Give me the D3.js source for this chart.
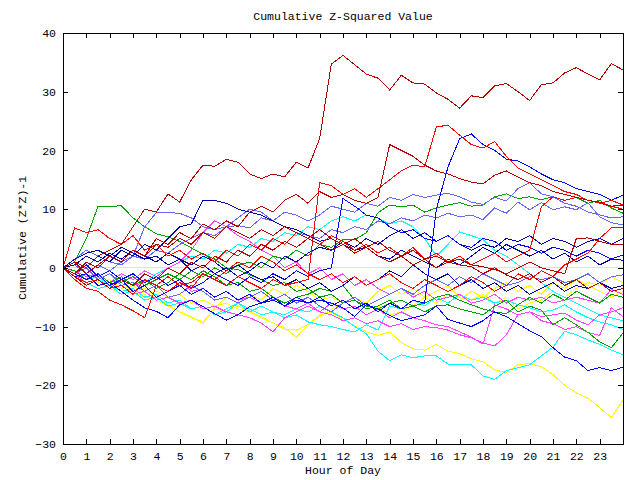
<!DOCTYPE html>
<html><head><meta charset="utf-8">
<script src="https://cdn.jsdelivr.net/npm/d3@7"></script>
<style>body{margin:0;background:#fff}svg{display:block}</style>
</head><body>
<script>
// Half-hour sampling grid (hour of day)
const hours = d3.range(0, 24.001, 0.5);
const xTickValues = d3.range(0, 24);
const yTickValues = [-30, -20, -10, 0, 10, 20, 30, 40];
const titleText = "Cumulative Z-Squared Value";
const xLabelText = "Hour of Day";
const yLabelText = "Cumulative (Z*Z)-1";

const darkRed1 = [0,1,0,2,3, 4,7,10,9.5,12.6, 11.2,15,17.5,17.3,18.5, 18,16,15.2,16,15.5, 18,17,22,34.7,36.2, 34.6,33,32.3,30.3,32.8, 31.5,31.3,29.8,28.7,27.2, 29.3,29,31,31.4,30, 28.5,31.2,31.5,33.2,34.1, 33,32,34.8,33.7];
const darkRed2 = [0,1,-1,0.5,2, 1,3,2,5,4, 6,5,7.5,6.5,8, 7,9.5,10.5,9.5,11.5, 12.5,11,13,12,12.5, 11.5,11,12,21,20, 19,17.5,16.5,16,15.2, 14.6,14.3,15.8,16.5,15.5, 14.5,14,13,12.5,12, 11.5,11.2,10.5,10.7];
const darkRed3 = [0,-1,1,0,2, 1,3,2,4,3.5, 5,4,6,5,7, 6,5,6.5,5.5,7, 6,5,6.5,5,4, 5,3.5,4.5,3,2, 3,1.5,2,1,1.5, 0.5,0.2,-0.3,-1,0, 1,0,-0.5,-1,5, 5.1,4.5,4,3.9];
const darkRed4 = [0,-1.5,-3,-2,-3.5, -2,-3,-1,-2,0, -1,1,0,2,1, 3,2,4,3,4.5, 3.5,5,4,3,4, 2.5,3.5,2,1,2, 0.5,1.5,0,1,0.5, 0.2,-1,0,-1.2,-2, -1,-2.5,-1.5,-3,-2, -3.5,-2.5,-4,-3.5];
const red1 = [0,-1.5,-2.5,-2,-3.5, -3,-4.5,-2,-3,-1.5, -3,-2.5,-1,-2,-3, -1.5,-2.5,-3.5,-2,-3, -2.5,-2,14.5,14,12.5, 13.5,12,13.5,15,16.5, 17.5,17.2,24,24.3,22.6, 21,20.4,21.5,19,17, 16,15,14,13,12.5, 11.5,11,10.5,10];
const red2 = [0,6.8,6,6.5,5, 4,5.5,3,4,2, 3,1.5,2.5,1,3, 2,4,3,5,4, 6,5,4,5.5,4.5, 3,4,2.5,3.5,2, 3.5,1.5,2.5,1,2, 0.5,1.5,2.5,1,2, 3,10.4,12.1,11.5,12, 11.5,11,11.5,10.7];
const red3 = [0,-2,-3.5,-4,-5.5, -6.3,-7.3,-8.5,-3,-4, -2.5,-3.5,-1,-2,-0.5, 1,0,2,1,-0.5, 0.5,-1,-2,-1,-2.5, -1.5,-3,-2,-1,-2.5, -3.5,-2,-3,-4,-3, -1.5,-2.5,-4,-3,-1, -2,-0.5,-1.5,0.5,1.5, 2.5,5,6.8,6.8];
const blue1 = [0,-1,-2,-1,-3, -2,-4,-3,-5,-4, -3,-4.5,-3.5,-5,-4, -5.5,-4.5,-6,-5,-6.5, -5.5,-6,-5,-6.5,-5.5, -7,-6,-7.5,-6,-7, -5.5,-6,10,17.2,22, 22.8,21,20,18.5,18.2, 17.2,16,15,14.5,13.5, 13,12.5,11.5,12.4];
const blue2 = [0,-1,0.5,-1.5,-0.5, -2,-1,-2.5,-1.5,-3, -2,-3.5,-2.5,-1,-2, -3,-1.5,-2.5,-1,-2, -0.5,-1.5,-0.5,0,11.8, 10.5,9,8.5,7,6, 6.5,5,4.5,5.5,4, 3.5,5,4.5,3,4, 3.5,2.5,3.5,3,2, 3,2.5,1.5,2.2];
const blue3 = [0,-1.5,-1,-3,-2.5, -4,-5.5,-6.8,-7.4,-8.5, -6.3,-5.5,-6.6,-7.8,-8.9, -8,-6.6,-6,-5.5,-6.5, -5,-6,-5.5,-6,-6.8, -8.3,-6.3,-7,-8.1,-9, -8.5,-8,-6.5,-8.8,-9.4, -10,-9,-7.5,-8.3,-9.5, -10.7,-11.7,-13.6,-15.2,-15.8, -17.5,-17,-17.5,-16.9];
const darkBlue1 = [0,1,0,2,1, 3,2,4,3,5, 7,7.5,11.5,11.5,11, 10,9.5,9,8,7, 6.5,5.5,4.5,5,4, 3,3.5,2,1.5,3, 2,1,0,1.5,0.5, 2,3.5,2.5,4,3, 2,3,1.5,2.5,1, 2,0.5,1.5,1.3];
const darkBlue2 = [0,0.5,2,1,2.5, 1.5,3,2,1,2.5, 1.5,0.5,2,1,-0.5, 0.5,-1,-2,-1.5,-3, -2,-3.5,-2.5,-4,-3, -1.5,-3,-2,-0.5,-1.5, 0.5,-1,-2,-1,-3, -2,-3.5,-2.5,-4,-3, -4.5,-3.5,-2.5,-4,-3, -3.5,-2.5,-3.5,-3];
const darkBlue3 = [0,1.5,2.5,3,2, 3.5,2.5,1.5,2,0.5, 1.5,-0.5,0.5,-1,0, -1.5,-0.5,1,0,2, 1,2.5,3.5,3,4.5, 3.5,5,4,5.5,6.5, 5,6,4.5,5.5,4, 3,4,3.5,5,4.5, 5.5,4,5,4.5,3.5, 4.5,5,4,5];
const green1 = [0,1,5,10.5,10.4, 10.6,8.5,7,5.8,5.3, 4.5,3.4,2.3,1.5,0, -0.3,-1.2,-2,-3,-2.5, -4,-3.5,-5,-4.5,-6, -5.5,-7,-6.5,-5.5,-7, -6.5,-7.5,-6.5,-6.3,-7, -7.5,-8,-6.5,-5.5,-7.5, -6.5,-7.2,-9.7,-8.5,-9.7, -11,-12.6,-13.6,-11.1];
const green2 = [0,-1,0,-2,-1, -2.5,-1.5,-3,-2,-1, -2,-0.5,-1.5,0,-1, 0.5,1,0,2,1.5, 3,2,4,3.5,4.8, 4.8,6,9.4,10.7,10.4, 10.7,9.5,10.2,10.7,11.1, 10.5,10.7,12.1,12.6,11.8, 12.1,11.6,12.1,11.5,12, 11,11.5,10.2,9.3];
const green3 = [0,-0.5,-2,-1,-2.5, -1.5,-3,-2,-3.5,-2.5, -1,-2,-0.5,-1.5,-3, -2.5,-4,-3.5,-5,-6, -5,-4.5,-3.5,-4,-3, -5.5,-6.5,-7,-6,-5.5, -6.5,-6,-5,-4.5,-5.5, -6.3,-7,-7.5,-7.8,-6.3, -5,-6,-4.5,-5.5,-4, -5,-6,-4.5,-5];
const magenta1 = [0,-1,-2.5,-2,-3.5, -3,-4.5,-4,-5.5,-5, -6,-5.5,-7,-6.5,-7.5, -8,-8.5,-9.4,-10.9,-8.5, -7.5,-6.5,-7.5,-6,-7, -6.5,-8,-7,-8.5,-7.5, -8.5,-9,-9.7,-10,-10.9, -11.8,-13,-6.3,-7,-8, -7.5,-9,-9.5,-10.5,-10, -11,-11.5,-6.8,-8.3];
const magenta2 = [0,-0.5,-1.5,-1,-2.5, -2,-3,-2.5,-1.5,-3, -2,-4,-3.5,-5,-4, -5.5,-5,-6,-5,-6.5, -7,-6,-7.5,-8,-9, -8.5,-9.5,-9,-10,-9.5, -10.5,-10,-10.2,-10.6,-11.4, -11.9,-12.8,-13.3,-11.4,-8, -7.5,-8.3,-8,-7.7,-8.9, -9.7,-8,-7.5,-6.8];
const magenta3 = [0,-2,-1,-3,-2.5, -1,-2,-0.5,-1.5,0, 1,3,6,8,7, 5.5,4.5,3,2,0, 1,-1,0,-2,-1, -3,-2,-3.5,-4.5,-3.5, -5,-4,-5.5,-5,-4.5, -6,-5.5,-4.5,-6,-5, -5.5,-5,-6,-5.5,-5, -5.5,-6,-3.7,-4.5];
const cyan1 = [0,-1,-2,-1.5,-3, -4,-3.5,-5,-4.5,-6, -5.5,-7,-6.5,-8,-7, -6,-7.5,-6.5,-7.5,-8, -7,-7.5,-6.5,-7.5,-8.5, -10,-11.2,-14.2,-15.8,-14.8, -15.3,-15,-15,-16.4,-16.5, -16.5,-18.4,-19,-17.5,-17, -16.5,-15,-13.5,-10.8,-11.4, -12.3,-13,-14,-14.8];
const cyan2 = [0,-1,-2.5,-2,-3, -2,-1,-2.5,-1,0, 1,2,1.5,3,2.5, 4,3.5,5,4.5,6, 5.5,7,6.5,8,8.7, 8,9,8.5,7.5,8, 7,5,2,4,6.1, 5.5,4.8,3,2,0.5, -1,-2.5,-4,-5,-6, -7,-8,-8.5,-9];
const cyan3 = [0,-1.5,-2.5,-3.5,-3, -4.5,-4,-5.5,-5,-6.5, -6,-7,-6.5,-8,-7.5, -6,-7,-8,-7.5,-8.5, -8,-9.2,-9.7,-10,-10.5, -10.9,-9.7,-10.6,-6.5,-7, -5.5,-6.5,-5,-6,-4.5, -5.5,-5,-6,-5.5,-6.3, -6.8,-7.5,-7.2,-6.3,-7.5, -8.5,-9.2,-9.7,-10.5];
const slate1 = [0,1.5,3,2,1, 0.5,2,7,9.4,9.4, 9.3,8.5,7,6.5,7, 7.2,6.8,8.5,8,9.5, 9,8,9,10.5,10, 9.5,11,10.5,12,11.5, 12.5,12,12.4,12.7,12.1, 11.2,10.8,12,11.4,13.5, 14.5,12.6,12.1,11,10.5, 9.5,9,8.5,8.7];
const slate2 = [0,0.5,-1,0.5,-0.5, 1,2,1.5,3,2.5, 4,5,6,5.5,7, 8.5,10,9.5,8,7, 6,5.5,5,6.5,6, 7,6.5,8,7.5,8.5, 8,9,8.5,9.3,8.7, 9,8.2,10.2,9.3,11.2, 9.9,11.1,9.9,10.4,9.9, 11.1,8.7,7.7,7.3];
const slate3 = [0,-1,0,-2,-1, -3,-2.5,-4,-3,-5, -4.5,-3,-4,-5.5,-5, -6,-5,-4,-5.5,-4.5, -6,-5,-6.5,-7.5,-6, -5,-6.5,-5.5,-4.5,-3.5, -4.5,-3,-2,-3,-1.5, -2.5,-1,-2,-3,-2.5, -1.5,-2,-1.5,-2.5,-2, -1,-2.5,-1.5,-1.2];
const yellow1 = [0,-1.5,-2.5,-2,-3.5, -4.5,-4,-5,-5.5,-6.5, -7.5,-8.5,-9.2,-7,-7.5, -6.5,-7.5,-8.3,-9.4,-10.5, -10.6,-9.7,-8,-7.5,-8.9, -9.9,-10.9,-11.5,-10.9,-12.7, -13.8,-14,-13,-14.2,-14.6, -15.5,-16,-17.4,-17.8,-16.5, -16.3,-16.8,-18.2,-20,-21.3, -22.2,-23.8,-25.5,-22.5];
const yellow2 = [0,-1,-2,-1.5,-3, -2.5,-4,-3.5,-5,-6.3, -7.5,-8.3,-9.5,-6.8,-5, -6,-4.5,-5.5,-3.5,-4.5, -3,-4,-5.5,-5,-6, -5.5,-7,-6.5,-8,-7.5, -6.5,-5,-6,-4.5,-5.5, -4,-5,-3.5,-2.5,-4, -3,-4.5,-2.5,-3.5,-2, -3,-4,-5,-4];
const yellow3 = [0,-0.5,-1.5,-2.5,-2, -3.5,-3,-4.5,-4,-5, -4.5,-6,-5.5,-6.5,-6, -7,-7.5,-8.5,-9.4,-10.2, -11.8,-9.7,-8.3,-7,-6, -5,-6,-4,-3,-4.5, -3.5,-5,-4,-3,-5, -5.5,-4.5,-6,-5,-7, -6,-5.5,-4,-5,-3.5, -2.5,-3,-1.5,-2.5];
const zeroLine = [0, 0];
const zeroLineHours = [0, 24];

const seriesValues = [yellow1, yellow2, yellow3, cyan1, cyan2, cyan3, magenta1, magenta2, magenta3,
  green1, green2, green3, slate1, slate2, slate3, darkBlue1, darkBlue2, darkBlue3,
  blue1, blue2, blue3, red1, red2, red3, darkRed1, darkRed2, darkRed3, darkRed4];
const seriesColors = ["#ffff00","#ffff00","#ffff00","#00ffff","#00ffff","#00ffff","#ff40ff","#ff40ff","#ff40ff",
  "#00a000","#00a000","#00a000","#6666ff","#6666ff","#6666ff","#0000a8","#0000a8","#0000a8",
  "#0000ff","#0000ff","#0000ff","#ff0000","#ff0000","#ff0000","#b40000","#b40000","#b40000","#b40000"];

const W = 640, H = 480;
const L = 63, R = 623, T = 33, B = 444;
const FONT = "'Liberation Mono', 'DejaVu Sans Mono', monospace";
const FSIZE = "11.5px";

const svg = d3.select("body").append("svg").attr("width", W).attr("height", H)
  .style("background", "#fff");

const x = d3.scaleLinear().domain([0, 24]).range([L, R]);
const y = d3.scaleLinear().domain([-30, 40]).range([B, T]);

const plot = svg.append("g");
const line = d3.line().x((d, i) => x(hours[i])).y(d => y(d));

// zero reference line
plot.append("path")
  .attr("d", d3.line().x((d, i) => x(zeroLineHours[i])).y(d => y(d))(zeroLine))
  .attr("fill", "none").attr("stroke", "#ffff00").attr("stroke-width", 1)
  .attr("shape-rendering", "crispEdges");

seriesValues.forEach((vals, k) => {
  plot.append("path").attr("d", line(vals))
    .attr("fill", "none").attr("stroke", seriesColors[k]).attr("stroke-width", 1)
    .attr("shape-rendering", "crispEdges");
});

function styleAxis(g) {
  g.select(".domain").remove();
  g.selectAll("line").attr("stroke", "#000").attr("shape-rendering", "crispEdges");
  g.selectAll("text").attr("fill", "#000").style("font-family", FONT).style("font-size", FSIZE);
}

svg.append("g").attr("transform", `translate(0,${B})`)
  .call(d3.axisBottom(x).tickValues(xTickValues).tickSizeInner(-5).tickSizeOuter(0).tickPadding(8).tickFormat(d3.format("d")))
  .call(styleAxis);
svg.append("g").attr("transform", `translate(0,${T})`)
  .call(d3.axisTop(x).tickValues(xTickValues).tickSizeInner(-5).tickSizeOuter(0).tickFormat(() => ""))
  .call(styleAxis);
svg.append("g").attr("transform", `translate(${L},0)`)
  .call(d3.axisLeft(y).tickValues(yTickValues).tickSizeInner(-5).tickSizeOuter(0).tickPadding(7).tickFormat(d3.format("d")))
  .call(styleAxis);
svg.append("g").attr("transform", `translate(${R},0)`)
  .call(d3.axisRight(y).tickValues(yTickValues).tickSizeInner(-5).tickSizeOuter(0).tickFormat(() => ""))
  .call(styleAxis);

svg.append("rect").attr("x", L + 0.5).attr("y", T + 0.5).attr("width", R - L).attr("height", B - T)
  .attr("fill", "none").attr("stroke", "#000").attr("stroke-width", 1).attr("shape-rendering", "crispEdges");

const txt = (s, tx, ty, rot) => {
  const t = svg.append("text").text(s).attr("text-anchor", "middle")
    .style("font-family", FONT).style("font-size", FSIZE).attr("fill", "#000");
  if (rot) t.attr("transform", `translate(${tx},${ty}) rotate(-90)`);
  else t.attr("x", tx).attr("y", ty);
  return t;
};
txt(titleText, 343, 20);
txt(xLabelText, 343, 474);
txt(yLabelText, 26, 238, true);
</script>
</body></html>
